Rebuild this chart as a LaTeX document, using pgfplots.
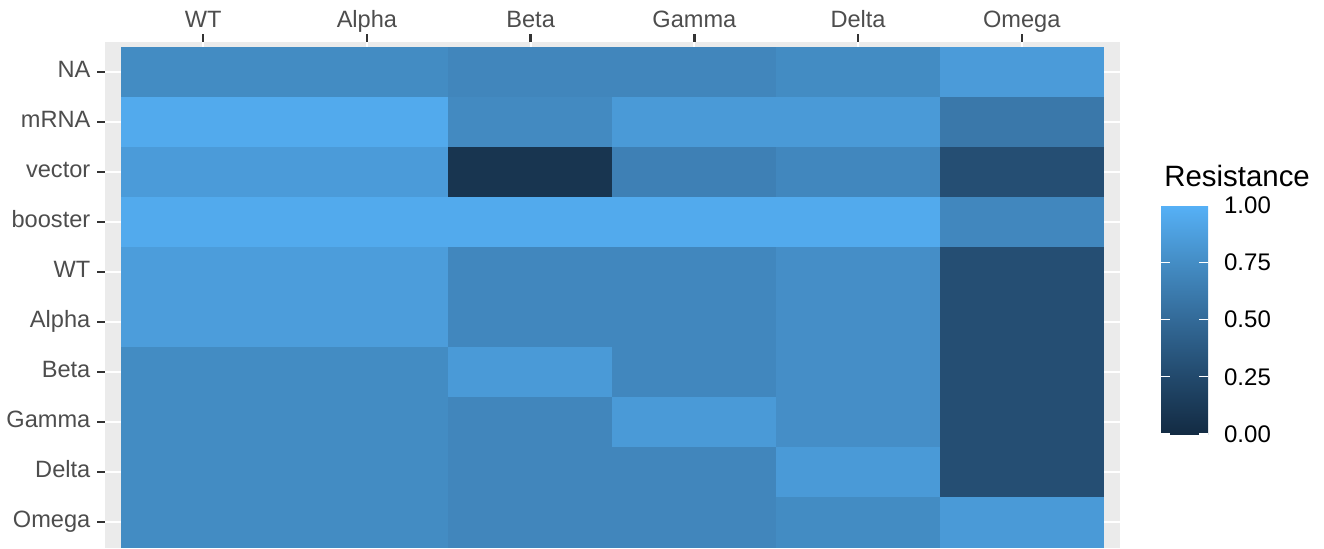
\documentclass[border=0pt]{standalone}
\usepackage{pgfplots}
\usepackage{pgfplotstable}
\pgfplotsset{compat=1.18}
\usepackage{fontspec}
\setmainfont{Liberation Sans}
\definecolor{panelgrey}{HTML}{EBEBEB}
\definecolor{ticklab}{HTML}{4D4D4D}
\definecolor{tickcol}{HTML}{333333}
% rows: 0 NA,1 mRNA,2 vector,3 booster,4 WT,5 Alpha,6 Beta,7 Gamma,8 Delta,9 Omega
% cols: 0 WT,1 Alpha,2 Beta,3 Gamma,4 Delta,5 Omega
\pgfplotstableread{
x y c
0 0 0.74
1 0 0.74
2 0 0.70
3 0 0.70
4 0 0.74
5 0 0.85
0 1 0.95
1 1 0.95
2 1 0.73
3 1 0.84
4 1 0.84
5 1 0.60
0 2 0.85
1 2 0.85
2 2 0.08
3 2 0.66
4 2 0.71
5 2 0.29
0 3 0.95
1 3 0.95
2 3 0.95
3 3 0.95
4 3 0.95
5 3 0.71
0 4 0.86
1 4 0.86
2 4 0.71
3 4 0.71
4 4 0.76
5 4 0.29
0 5 0.86
1 5 0.86
2 5 0.71
3 5 0.71
4 5 0.76
5 5 0.29
0 6 0.74
1 6 0.74
2 6 0.84
3 6 0.71
4 6 0.76
5 6 0.29
0 7 0.74
1 7 0.74
2 7 0.70
3 7 0.84
4 7 0.76
5 7 0.29
0 8 0.74
1 8 0.74
2 8 0.70
3 8 0.70
4 8 0.84
5 8 0.29
0 9 0.74
1 9 0.74
2 9 0.70
3 9 0.70
4 9 0.74
5 9 0.84
}\heat
\begin{document}
\begin{tikzpicture}
\path[use as bounding box] (0pt,0pt) rectangle (662pt,274pt);
\begin{axis}[
 at={(52.5pt,0pt)}, anchor=south west,
 scale only axis, width=507.5pt, height=253pt,
 xmin=-0.6, xmax=5.6, ymin=-0.6, ymax=9.52, y dir=reverse,
 xtick={0,...,5}, xticklabels={WT,Alpha,Beta,Gamma,Delta,Omega},
 ytick={0,...,9}, yticklabels={NA,mRNA,vector,booster,WT,Alpha,Beta,Gamma,Delta,Omega},
 xtick pos=right, xticklabel pos=right, ytick pos=left,
 typeset ticklabels with strut,
 tick align=outside, major tick length=3.8pt,
 tick style={draw=tickcol, line width=1.2pt},
 axis line style={draw=none},
 axis background/.style={fill=panelgrey},
 grid=major, major grid style={white, line width=0.9pt},
 ticklabel style={font=\fontsize{11.8}{14}\selectfont, text=ticklab},
 xticklabel style={yshift=-4.5pt},
 colormap={gg}{rgb255=(19,43,67) rgb255=(34,73,108) rgb255=(51,106,152) rgb255=(68,141,197) rgb255=(86,177,247)},
 point meta min=0, point meta max=1,
 colorbar,
 colorbar/width=23.5pt,
 colorbar style={
   at={(parent axis.north east)}, anchor=north west, xshift=12pt, yshift=-81.5pt,
   scale only axis, height=114.5pt,
   axis on top,
   ytick={0,0.25,0.5,0.75,1},
   yticklabel style={font=\fontsize{12}{14}\selectfont, text=black, xshift=4.5pt,
     /pgf/number format/.cd, fixed, fixed zerofill, precision=2, assume math mode=true},
   yticklabel pos=right, ytick pos=both, tick align=inside,
   major tick length=4.7pt,
   tick style={draw=white, line width=0.6pt},
   axis line style={draw=none},
   grid=none,
 },
]
\addplot[matrix plot*, mesh/cols=6, point meta=explicit] table[meta=c] {\heat};
\end{axis}
\node[anchor=west, font=\fontsize{14.7}{17}\selectfont, inner sep=0pt] at (582pt,186pt) {Resistance};
\end{tikzpicture}
\end{document}
